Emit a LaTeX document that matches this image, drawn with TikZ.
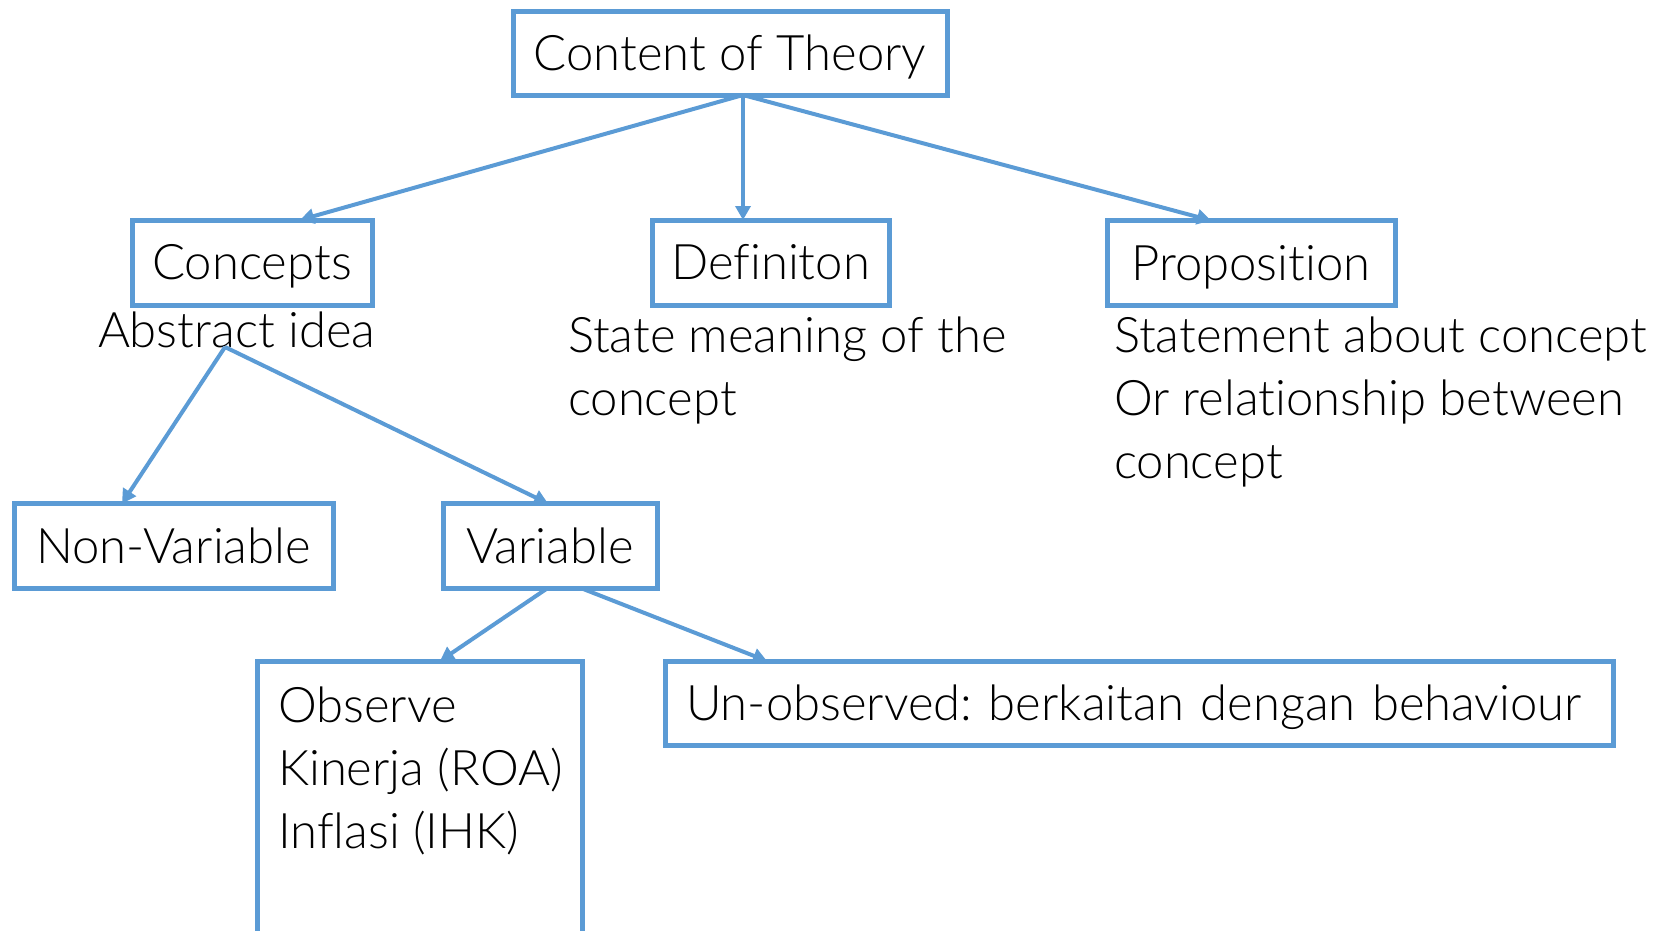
\documentclass[tikz,border=0pt]{standalone}
\usepackage{fontspec}
\setmainfont{Lato Light}[Ligatures={NoCommon,NoContextual,NoRare},Contextuals=NoAlternate]
\usetikzlibrary{arrows.meta}
\definecolor{obl}{HTML}{5B9BD5}
\newcommand\dgfont{\fontsize{49}{63}\selectfont\frenchspacing}
\begin{document}
\begin{tikzpicture}[x=1pt,y=-1pt,
  box/.style={draw=obl, line width=5pt, inner sep=0pt, outer sep=0pt,
    minimum height=85pt, text height=34pt, text depth=0pt, font=\dgfont},
  txt/.style={inner sep=0pt, outer sep=0pt, anchor=base west, font=\dgfont},
  conn/.style={draw=obl, line width=4pt, -{Triangle[length=14pt,width=15pt]}}]
\useasboundingbox (0,0) rectangle (1665,930);
\clip (0,0) rectangle (1665,930);
% boxes
\node[box, minimum width=434pt, minimum height=84pt] (ct) at (730,53) {Content of Theory};
\node[box, minimum width=240pt] (con) at (252,262.5) {Concepts};
\node[box, minimum width=237pt] (def) at (770.5,262.5) {Definiton};
\node[box, minimum width=288pt] (prop) at (1251,263) {Proposition};
\node[box, minimum width=319pt] (nv) at (173.5,546) {Non-Variable};
\node[box, minimum width=214pt] (var) at (550,546) {Variable};
\node[box, minimum width=325pt, minimum height=330pt, anchor=north] (obs) at (419.5,661) {};
\node[box, text width=906pt, inner xsep=21pt, align=left, minimum height=84pt] (unobs) at (1139,703) {Un-observed: berkaitan dengan behaviour};
% free texts
\node[txt] (abs) at (98,347) {Abstract idea};
\node[txt] (deft) at (568,352) {\vtop{\hbox{State meaning of the}\hbox{concept}}};
\node[txt] (propt) at (1114,352) {\vtop{\hbox{Statement about concept}\hbox{Or relationship between}\hbox{concept}}};
\node[txt] (obst) at (278,722) {\vtop{\hbox{Observe}\hbox{Kinerja (ROA)}\hbox{Inflasi (IHK)}}};
% connectors
\draw[conn] ([xshift=13pt]ct.south) -- ([xshift=48pt]con.north);
\draw[conn] ([xshift=13pt]ct.south) -- ([xshift=-27.5pt]def.north);
\draw[conn] ([xshift=13pt]ct.south) -- ([xshift=-40pt]prop.north);
\draw[conn] ([xshift=127pt]abs.base west) -- ([xshift=-51.5pt]nv.north);
\draw[conn] ([xshift=127pt]abs.base west) -- ([xshift=-2pt]var.north);
\draw[conn] ([xshift=-3pt]var.south) -- ([xshift=20.5pt]obs.north);
\draw[conn] ([xshift=32pt]var.south) -- ([xshift=-372pt]unobs.north);
\end{tikzpicture}
\end{document}
